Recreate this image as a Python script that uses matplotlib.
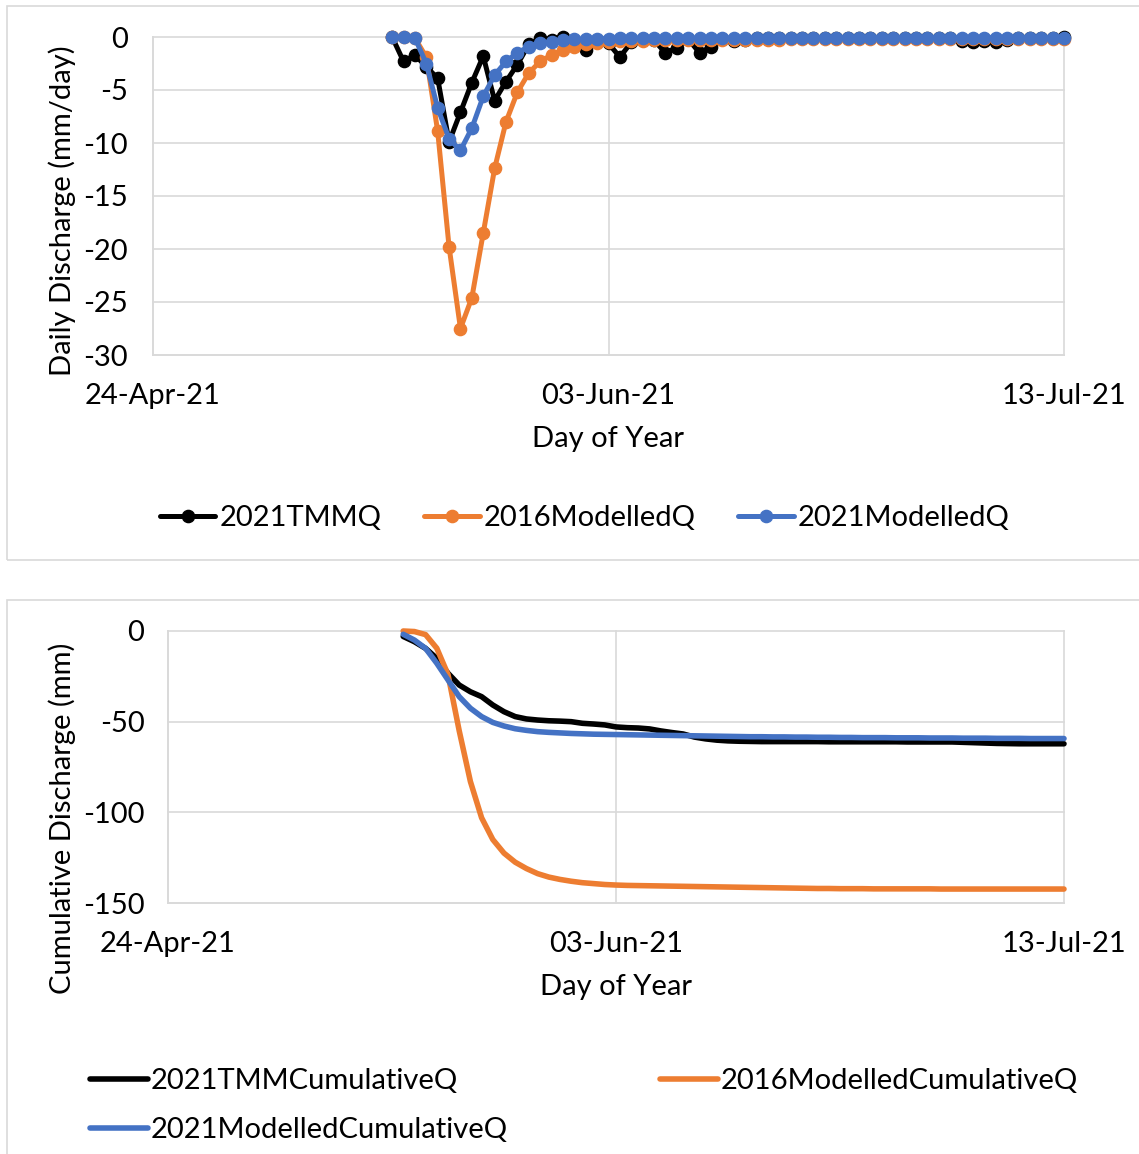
import numpy as np
import pandas as pd
import matplotlib
matplotlib.use("Agg")
import matplotlib.pyplot as plt
import matplotlib.dates as mdates
from matplotlib.patches import Rectangle

# ---- data -------------------------------------------------------------
dates = pd.date_range("2021-05-15", "2021-07-13", freq="D")

# daily discharge (mm/day)
tmm_daily = [0.0, -2.3, -1.7, -2.8, -3.9, -9.9, -7.1, -4.3, -1.8, -6.0,
             -4.2, -2.6, -0.7, -0.1, -0.3, 0.0, -0.5, -1.2, -0.4, -0.6,
             -1.9, -0.5, -0.2, -0.3, -1.5, -1.0, -0.2, -1.5, -0.9, -0.2,
             -0.4, -0.3, -0.1, -0.1, -0.1, -0.1, -0.1, -0.1, -0.1, -0.1,
             -0.1, -0.1, -0.1, -0.1, -0.1, -0.1, -0.1, -0.1, -0.1, -0.1,
             -0.4, -0.5, -0.4, -0.5, -0.3, -0.1, -0.1, -0.1, -0.1, 0.0]
mod2016_daily = [0.0, 0.0, -0.1, -1.9, -8.9, -19.8, -27.5, -24.6, -18.5, -12.4,
                 -8.0, -5.2, -3.4, -2.3, -1.7, -1.2, -0.9, -0.7, -0.6, -0.5,
                 -0.4, -0.4, -0.35, -0.3, -0.3, -0.25, -0.25, -0.25, -0.25, -0.25,
                 -0.25, -0.25, -0.25, -0.25, -0.25, -0.2, -0.2, -0.2, -0.2, -0.2,
                 -0.2, -0.2, -0.2, -0.2, -0.2, -0.2, -0.2, -0.2, -0.2, -0.2,
                 -0.2, -0.2, -0.2, -0.2, -0.2, -0.2, -0.2, -0.2, -0.2, -0.2]
mod2021_daily = [0.0, 0.0, -0.1, -2.5, -6.7, -9.6, -10.7, -8.6, -5.6, -3.6,
                 -2.3, -1.5, -0.9, -0.6, -0.45, -0.3, -0.2, -0.2, -0.15, -0.15,
                 -0.1, -0.1, -0.1, -0.1, -0.1, -0.1, -0.1, -0.1, -0.1, -0.1,
                 -0.05, -0.05, -0.05, -0.05, -0.05, -0.05, -0.05, -0.05, -0.05, -0.05,
                 -0.05, -0.05, -0.05, -0.05, -0.05, -0.05, -0.05, -0.05, -0.05, -0.05,
                 -0.05, -0.05, -0.05, -0.05, -0.05, -0.05, -0.05, -0.05, -0.05, -0.05]

# cumulative discharge (mm)
tmm_cum = [-3.0, -5.9, -9.6, -15.1, -23.3, -29.8, -33.5, -36.2, -40.8, -44.5,
           -47.2, -48.5, -49.1, -49.5, -49.7, -50.0, -50.9, -51.3, -51.8, -52.9,
           -53.3, -53.5, -54.0, -55.1, -56.0, -56.8, -58.5, -59.5, -60.2, -60.6,
           -60.8, -60.9, -61.0, -61.0, -61.0, -61.0, -61.0, -61.0, -61.1, -61.1,
           -61.1, -61.1, -61.1, -61.1, -61.1, -61.2, -61.2, -61.2, -61.2, -61.2,
           -61.4, -61.6, -61.8, -62.0, -62.1, -62.2, -62.2, -62.2, -62.2, -62.2]
mod2016_cum = [0.0, -0.3, -2.0, -9.5, -24.0, -55.0, -83.0, -103.0, -115.0, -122.5,
               -127.5, -131.0, -133.8, -135.7, -137.0, -138.0, -138.8, -139.3, -139.8, -140.1,
               -140.3, -140.4, -140.5, -140.6, -140.7, -140.8, -140.9, -141.0, -141.1, -141.2,
               -141.3, -141.4, -141.5, -141.6, -141.7, -141.8, -141.9, -142.0, -142.0, -142.1,
               -142.1, -142.1, -142.2, -142.2, -142.2, -142.2, -142.2, -142.2, -142.3, -142.3,
               -142.3, -142.3, -142.3, -142.3, -142.3, -142.3, -142.3, -142.3, -142.3, -142.3]
mod2021_cum = [-1.8, -5.0, -9.6, -17.8, -27.0, -36.2, -42.6, -47.2, -50.4, -52.4,
               -53.9, -54.8, -55.5, -55.9, -56.2, -56.5, -56.7, -56.9, -57.0, -57.1,
               -57.2, -57.3, -57.4, -57.5, -57.6, -57.7, -57.8, -57.9, -58.0, -58.1,
               -58.2, -58.3, -58.3, -58.4, -58.4, -58.5, -58.5, -58.6, -58.6, -58.7,
               -58.7, -58.8, -58.8, -58.8, -58.9, -58.9, -58.9, -59.0, -59.0, -59.0,
               -59.1, -59.1, -59.1, -59.2, -59.2, -59.2, -59.3, -59.3, -59.3, -59.3]

daily_labels = ["2021TMMQ", "2016ModelledQ", "2021ModelledQ"]
cum_labels = ["2021TMMCumulativeQ", "2016ModelledCumulativeQ", "2021ModelledCumulativeQ"]

x_ticks = pd.to_datetime(["2021-04-24", "2021-06-03", "2021-07-13"])
daily_yticks = [0, -5, -10, -15, -20, -25, -30]
cum_yticks = [0, -50, -100, -150]

# ---- style ------------------------------------------------------------
BLACK, ORANGE, BLUE = "#000000", "#ED7D31", "#4472C4"
colors = [BLACK, ORANGE, BLUE]
GRID = "#D9D9D9"
FS = 21

plt.rcParams["font.family"] = ["Lato", "DejaVu Sans"]
plt.rcParams["font.size"] = FS
plt.rcParams["axes.unicode_minus"] = False

W, H = 1139, 1154
fig = plt.figure(figsize=(W / 100, H / 100), dpi=100)


def px_box(left, top, right, bottom):
    return [left / W, 1 - bottom / H, (right - left) / W, (bottom - top) / H]


# chart frames
fig.add_artist(Rectangle((7 / W, 1 - 560 / H), 1.0, (560 - 6) / H,
                         transform=fig.transFigure, fill=False, ec=GRID, lw=1.2))
fig.add_artist(Rectangle((7 / W, 1 - 1170 / H), 1.0, (1170 - 600) / H,
                         transform=fig.transFigure, fill=False, ec=GRID, lw=1.2))

ax1 = fig.add_axes(px_box(153, 37, 1064, 355))
ax2 = fig.add_axes(px_box(168, 631, 1064, 903))


def style_axes(ax, yticks, ypad):
    ax.set_facecolor("none")
    ax.spines["top"].set_visible(False)
    ax.spines["right"].set_visible(False)
    for s in ("left", "bottom"):
        ax.spines[s].set_color(GRID)
        ax.spines[s].set_linewidth(1.2)
    ax.set_xlim(x_ticks[0], x_ticks[-1])
    ax.set_xticks(x_ticks)
    ax.xaxis.set_major_formatter(mdates.DateFormatter("%d-%b-%y"))
    ax.set_ylim(min(yticks), max(yticks))
    ax.set_yticks(yticks)
    ax.grid(True, color=GRID, lw=1.2)
    ax.set_axisbelow(True)
    for gl in ax.get_xgridlines() + ax.get_ygridlines():
        gl.set_clip_on(False)
    ax.tick_params(axis="both", length=0, labelsize=FS)
    ax.tick_params(axis="y", pad=ypad)
    ax.tick_params(axis="x", pad=20)


style_axes(ax1, daily_yticks, 18)
style_axes(ax2, cum_yticks, 17)

# daily discharge with markers
daily_series = [tmm_daily, mod2016_daily, mod2021_daily]
daily_handles = []
for vals, c, lab in zip(daily_series, colors, daily_labels):
    ln, = ax1.plot(dates, vals, color=c, lw=3.6, marker="o", ms=8.8,
                   mec=c, mfc=c, clip_on=False, label=lab,
                   solid_joinstyle="round", solid_capstyle="round")
    daily_handles.append(ln)

# cumulative discharge
cum_series = [tmm_cum, mod2016_cum, mod2021_cum]
cum_handles = []
for vals, c, lab in zip(cum_series, colors, cum_labels):
    ln, = ax2.plot(dates, vals, color=c, lw=4.0, clip_on=False, label=lab,
                   solid_joinstyle="round", solid_capstyle="round")
    cum_handles.append(ln)

# axis titles
ax1.set_ylabel("Daily Discharge (mm/day)", fontsize=FS, va="center")
ax1.yaxis.set_label_coords((62 - 153) / (1064 - 153), (355 - 211) / (355 - 37))
ax1.set_xlabel("Day of Year", fontsize=FS, va="center")
ax1.xaxis.set_label_coords(0.5, -(439 - 355) / (355 - 37))

ax2.set_ylabel("Cumulative Discharge (mm)", fontsize=FS, va="center")
ax2.yaxis.set_label_coords((62 - 168) / (1064 - 168), (903 - 818) / (903 - 631))
ax2.set_xlabel("Day of Year", fontsize=FS, va="center")
ax2.xaxis.set_label_coords((616 - 168) / (1064 - 168), -(987 - 903) / (903 - 631))

# legends
fig.legend(daily_handles, daily_labels, loc="center left",
           bbox_to_anchor=(160 / W, 1 - 518 / H), ncol=3, frameon=False,
           borderpad=0, borderaxespad=0, handlelength=1.9, handletextpad=0.15,
           columnspacing=1.45, fontsize=FS)

fig.legend([cum_handles[0], cum_handles[2]], [cum_labels[0], cum_labels[2]],
           loc="upper left", bbox_to_anchor=(90 / W, 1 - 1068 / H), ncol=1,
           frameon=False, borderpad=0, borderaxespad=0, handlelength=2.0,
           handletextpad=0.08, labelspacing=0.8, fontsize=FS)
fig.legend([cum_handles[1]], [cum_labels[1]],
           loc="upper left", bbox_to_anchor=(660 / W, 1 - 1068 / H), ncol=1,
           frameon=False, borderpad=0, borderaxespad=0, handlelength=2.0,
           handletextpad=0.08, fontsize=FS)

fig.savefig("out.png", dpi=100)
